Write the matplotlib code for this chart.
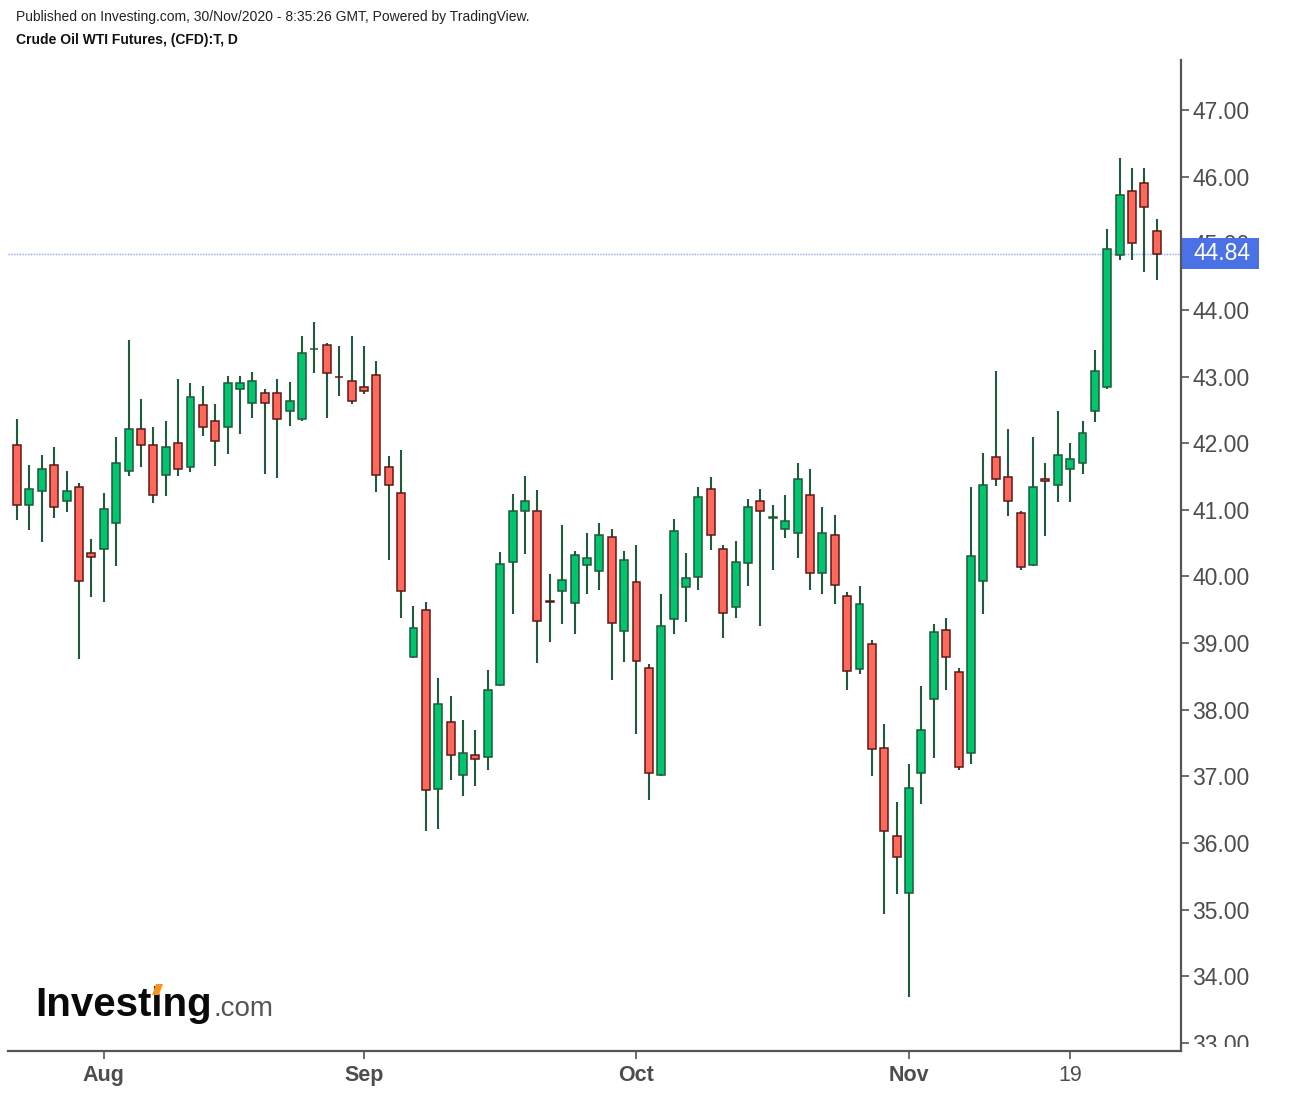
import matplotlib
matplotlib.use("Agg")
import matplotlib.pyplot as plt
import numpy as np
import pandas as pd
from matplotlib.patches import Rectangle, Polygon

plt.rcParams['font.family'] = ['Liberation Sans', 'DejaVu Sans']

# ---------------- data ----------------
dates = pd.bdate_range('2020-07-23', '2020-11-30')

opens = [41.98, 41.07, 41.28, 41.68, 41.13, 41.35, 40.36, 40.41, 40.80, 41.58,
         42.22, 41.98, 41.52, 42.01, 41.64, 42.58, 42.34, 42.24, 42.81, 42.60,
         42.76, 42.76, 42.48, 42.36, 43.41, 43.48, 43.00, 42.94, 42.85, 43.03,
         41.65, 41.26, 38.79, 39.49, 36.81, 37.81, 37.02, 37.32, 37.29, 38.37,
         40.21, 40.98, 40.99, 39.63, 39.78, 39.60, 40.17, 40.08, 40.60, 39.18,
         39.91, 38.62, 37.02, 39.36, 39.84, 39.99, 41.32, 40.42, 39.54, 40.20,
         41.14, 40.88, 40.71, 40.65, 41.23, 40.05, 40.63, 39.70, 38.61, 38.98,
         37.42, 36.10, 35.25, 37.05, 38.16, 39.19, 38.56, 37.35, 39.93, 41.80,
         41.50, 40.96, 40.17, 41.46, 41.37, 41.61, 41.70, 42.48, 42.84, 44.82,
         45.79, 45.91, 45.19]
highs = [42.37, 41.68, 41.83, 41.95, 41.59, 41.41, 40.57, 41.26, 42.10, 43.55,
         42.67, 42.25, 42.34, 42.97, 42.91, 42.86, 42.59, 43.01, 43.01, 43.07,
         42.82, 42.97, 42.92, 43.61, 43.82, 43.51, 43.46, 43.61, 43.46, 43.24,
         41.81, 41.90, 39.56, 39.61, 38.47, 38.20, 37.85, 37.70, 38.60, 40.37,
         41.24, 41.51, 41.30, 40.03, 40.78, 40.39, 40.66, 40.81, 40.72, 40.39,
         40.48, 38.68, 39.73, 40.87, 40.36, 41.35, 41.50, 40.48, 40.54, 41.17,
         41.32, 41.08, 41.23, 41.71, 41.62, 41.05, 40.93, 39.76, 39.85, 39.04,
         37.78, 36.61, 37.18, 38.35, 39.28, 39.37, 38.62, 41.35, 41.86, 43.09,
         42.22, 40.98, 42.10, 41.71, 42.49, 42.01, 42.34, 43.40, 45.22, 46.28,
         46.13, 46.13, 45.37]
lows = [40.85, 40.70, 40.52, 40.88, 40.97, 38.76, 39.69, 39.62, 40.16, 41.51,
        41.64, 41.10, 41.21, 41.51, 41.57, 42.11, 41.66, 41.84, 42.14, 42.38,
        41.54, 41.48, 42.26, 42.34, 43.05, 42.38, 42.71, 42.59, 42.74, 41.27,
        40.25, 39.38, 38.77, 36.18, 36.21, 36.95, 36.71, 36.86, 37.10, 38.35,
        39.44, 40.34, 38.70, 39.02, 39.29, 39.14, 39.74, 39.80, 38.45, 38.72,
        37.64, 36.65, 37.00, 39.14, 39.32, 39.80, 40.40, 39.08, 39.38, 39.86,
        39.26, 40.10, 40.58, 40.28, 39.80, 39.74, 39.59, 38.30, 38.54, 37.01,
        34.94, 35.24, 33.69, 36.59, 37.28, 38.30, 37.10, 37.19, 39.44, 41.36,
        40.91, 40.10, 40.15, 40.61, 41.12, 41.12, 41.54, 42.32, 42.82, 44.75,
        44.75, 44.57, 44.45]
closes = [41.07, 41.32, 41.62, 41.04, 41.29, 39.93, 40.29, 41.02, 41.71, 42.22,
          41.97, 41.22, 41.95, 41.61, 42.70, 42.24, 42.03, 42.91, 42.91, 42.94,
          42.60, 42.36, 42.64, 43.36, 43.42, 43.05, 42.99, 42.63, 42.78, 41.52,
          41.37, 39.78, 39.22, 36.79, 38.08, 37.32, 37.35, 37.26, 38.29, 40.18,
          40.99, 41.14, 39.33, 39.61, 39.94, 40.32, 40.27, 40.63, 39.30, 40.24,
          38.73, 37.05, 39.25, 40.69, 39.97, 41.20, 40.62, 39.45, 40.21, 41.05,
          40.98, 40.89, 40.84, 41.46, 40.05, 40.66, 39.87, 38.58, 39.58, 37.41,
          36.18, 35.79, 36.82, 37.69, 39.16, 38.79, 37.14, 40.30, 41.38, 41.46,
          41.13, 40.14, 41.35, 41.44, 41.83, 41.77, 42.16, 43.09, 44.92, 45.73,
          45.00, 45.54, 44.84]

tick_dates = ['2020-08-03', '2020-09-01', '2020-10-01', '2020-11-02', '2020-11-19']
tick_labels = ['Aug', 'Sep', 'Oct', 'Nov', '19']
tick_bold = [True, True, True, True, False]
price_ticks = [33, 34, 35, 36, 37, 38, 39, 40, 41, 42, 43, 44, 45, 46, 47]
last_price = 44.84

header1 = "Published on Investing.com, 30/Nov/2020 - 8:35:26 GMT, Powered by TradingView."
header2 = "Crude Oil WTI Futures, (CFD):T, D"

# ---------------- figure ----------------
W, H = 1290, 1094
fig = plt.figure(figsize=(W / 100, H / 100), dpi=100)
fig.patch.set_facecolor('white')

def fx(px):
    return px / W

def fy(py):
    return 1 - py / H

ax_left, ax_right, ax_top, ax_bottom = 8, 1181, 60, 1051
ax = fig.add_axes([fx(ax_left), fy(ax_bottom), (ax_right - ax_left) / W, (ax_bottom - ax_top) / H])

o = np.array(opens)
h = np.array(highs)
l = np.array(lows)
c = np.array(closes)
x = np.arange(len(dates))
up = c >= o

UP_FILL = '#00c46e'
DN_FILL = '#ff695c'
UP_EDGE = '#1f5a3a'
DN_EDGE = '#5e1a17'

ax.vlines(x, l, h, color=UP_EDGE, lw=1.5, zorder=2)
ax.bar(x[up], np.maximum((c - o)[up], 0.005), bottom=o[up], width=0.64,
       color=UP_FILL, edgecolor=UP_EDGE, linewidth=1.1, zorder=3)
ax.bar(x[~up], np.maximum((o - c)[~up], 0.005), bottom=c[~up], width=0.64,
       color=DN_FILL, edgecolor=DN_EDGE, linewidth=1.1, zorder=3)

# last price dotted line
ax.axhline(last_price, color='#8da3f2', lw=1.0, ls=(0, (1, 1)), zorder=1)

ax.set_xlim(-0.73, 93.95)
ax.set_ylim(32.88, 47.75)

# spines
for s in ['top', 'left']:
    ax.spines[s].set_visible(False)
for s in ['right', 'bottom']:
    ax.spines[s].set_color('#555555')
    ax.spines[s].set_linewidth(1.6)

# y axis on right
ax.yaxis.tick_right()
ax.set_yticks(price_ticks)
ax.set_yticklabels(['%.2f' % v for v in price_ticks])
ax.tick_params(axis='y', direction='out', length=6, width=1.2, color='#555555',
               labelsize=16.5, labelcolor='#4d4d4d', pad=2)

# x ticks
date_index = {d.strftime('%Y-%m-%d'): i for i, d in enumerate(dates)}
ax.set_xticks([date_index[d] for d in tick_dates])
ax.set_xticklabels(tick_labels)
for lab, b in zip(ax.get_xticklabels(), tick_bold):
    lab.set_fontweight('bold' if b else 'normal')
ax.tick_params(axis='x', direction='out', length=6, width=1.2, color='#555555',
               labelsize=15.5, labelcolor='#4d4d4d', pad=4)

# cover the clipped lower part of the bottom price label
fig.patches.append(Rectangle((fx(1184), 0), 1 - fx(1184), fy(1047), transform=fig.transFigure,
                             facecolor='white', edgecolor='none', zorder=10))

# last price box
box_top, box_bot = 238, 269
fig.patches.append(Rectangle((fx(1182), fy(box_bot)), fx(1259) - fx(1182), (box_bot - box_top) / H,
                             transform=fig.transFigure, facecolor='#4a72e6', edgecolor='none', zorder=11))
fig.text(fx(1194), fy(254), '%.2f' % last_price, color='white', fontsize=16.5,
         va='center', ha='left', zorder=12)

# header
fig.text(fx(16), fy(17), header1, fontsize=10, color='#222222', va='center', ha='left')
fig.text(fx(16), fy(40), header2, fontsize=10, color='#111111', va='center', ha='left',
         fontweight='bold')

# logo
fig.text(fx(35), fy(1016), 'Investing', fontsize=29, fontweight='bold', color='#0a0a0a',
         va='baseline', ha='left', zorder=5)
fig.text(fx(213), fy(1016), '.com', fontsize=20, color='#555555',
         va='baseline', ha='left', zorder=5)
# orange accent replacing the dot of the "i"
fig.patches.append(Polygon([(fx(152), fy(995)), (fx(159), fy(995)), (fx(163), fy(984)), (fx(156), fy(984))],
                           closed=True, transform=fig.transFigure, facecolor='#f7941d',
                           edgecolor='none', zorder=6))

fig.savefig('out.png', dpi=100, facecolor='white')
